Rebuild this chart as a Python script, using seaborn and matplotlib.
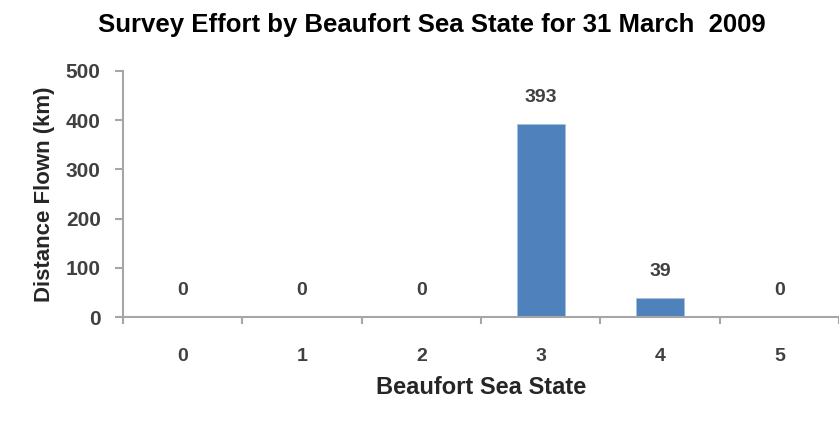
import pandas as pd
import matplotlib.pyplot as plt
import seaborn as sns

# Daten
sea_state = ["0", "1", "2", "3", "4", "5"]
distance_km = [0, 0, 0, 393, 39, 0]

df = pd.DataFrame({"state": sea_state, "km": distance_km})

sns.set_style("white")
plt.rcParams['font.family'] = ['Liberation Sans', 'DejaVu Sans']

fig = plt.figure(figsize=(8.39, 4.22), dpi=100)
ax = fig.add_axes([0.1466, 0.2488, 0.8534, 0.583])

sns.barplot(data=df, x="state", y="km", color="#4F81BD", width=0.4,
            saturation=1, ax=ax, edgecolor="#A7C0DE", linewidth=0.6)

ax.set_ylim(0, 500)
ax.set_yticks(range(0, 501, 100))
ax.set_xlim(-0.5, 5.5)

# Werte über den Balken
for i, v in enumerate(distance_km):
    ax.annotate(str(v), (i, v), xytext=(0, 13), textcoords="offset points",
                ha="center", va="bottom", fontsize=14, fontweight="bold",
                color="#404040")

# Achsen im Excel-Stil
for s in ["top", "right"]:
    ax.spines[s].set_visible(False)
ax.spines["left"].set_color("#A6A6A6")
ax.spines["bottom"].set_color("#A6A6A6")
ax.spines["left"].set_linewidth(1.5)
ax.spines["bottom"].set_linewidth(1.5)

ax.tick_params(axis="y", which="major", direction="out", length=6, width=1.5,
               color="#A6A6A6", left=True, labelsize=15, labelcolor="#404040", pad=10)
ax.tick_params(axis="x", which="major", length=0, labelsize=14,
               labelcolor="#404040", pad=22)
ax.set_xticks([x + 0.5 for x in range(-1, 6)], minor=True)
ax.tick_params(axis="x", which="minor", direction="out", length=5, width=1.5,
               color="#A6A6A6", bottom=True)
for lbl in ax.get_yticklabels() + ax.get_xticklabels():
    lbl.set_fontweight("bold")

ax.set_xlabel("Beaufort Sea State", fontsize=17, fontweight="bold", labelpad=8)
ax.set_ylabel("Distance Flown (km)", fontsize=16, fontweight="bold", labelpad=8)
fig.suptitle("Survey Effort by Beaufort Sea State for 31 March  2009",
             x=0.515, y=0.97, fontsize=18.5, fontweight="bold", color="black")

plt.savefig("out.png", dpi=100)
